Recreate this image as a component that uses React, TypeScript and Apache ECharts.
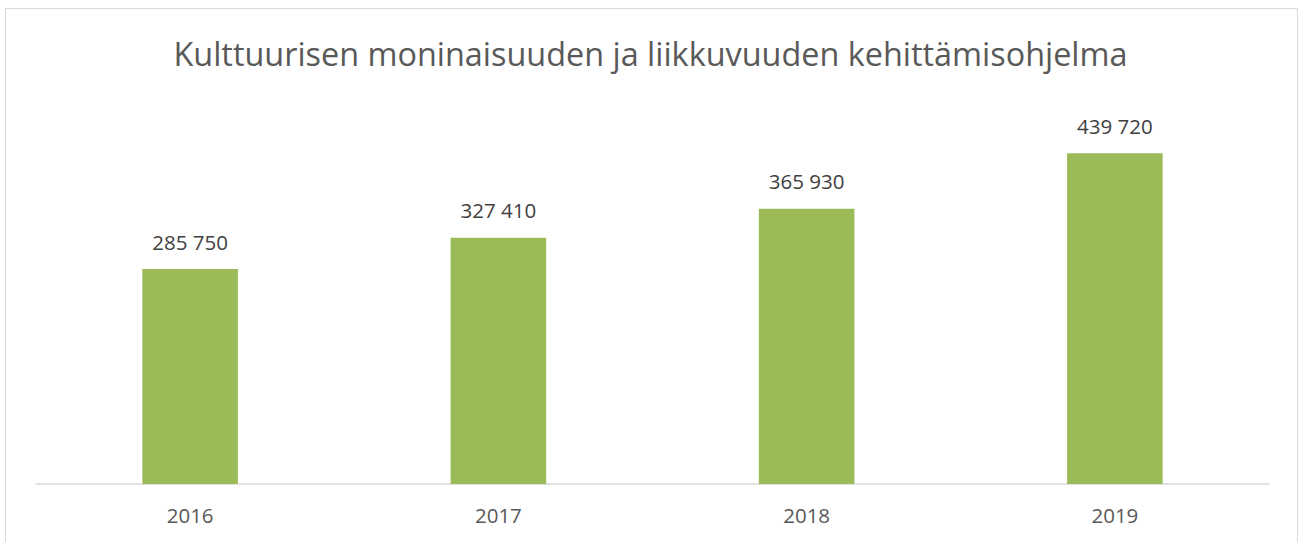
import React, { useEffect, useRef } from "react";
import * as echarts from "echarts";

const titleText = "Kulttuurisen moninaisuuden ja liikkuvuuden kehittämisohjelma";
const categories = ["2016", "2017", "2018", "2019"];
const values = [285750, 327410, 365930, 439720];

const fmt = (v: number) => String(v).replace(/\B(?=(\d{3})+(?!\d))/g, " ");

export default function App() {
  const ref = useRef<HTMLDivElement>(null);
  useEffect(() => {
    if (!ref.current) return;
    const chart = echarts.init(ref.current, undefined, { renderer: "svg" });
    chart.setOption({
      animation: false,
      backgroundColor: "#ffffff",
      title: {
        text: titleText,
        left: "center",
        top: 32,
        textStyle: {
          fontFamily: "Open Sans",
          fontSize: 32.4,
          fontWeight: "normal",
          color: "#595959",
        },
      },
      graphic: [
        {
          type: "rect",
          shape: { x: 5.5, y: 8.5, width: 1292, height: 545 },
          style: { fill: "none", stroke: "#D9D9D9", lineWidth: 1 },
          silent: true,
        },
      ],
      grid: { left: 36, right: 32, top: 108, bottom: 58 },
      xAxis: {
        type: "category",
        data: categories,
        axisLine: { lineStyle: { color: "#D9D9D9", width: 1.5 } },
        axisTick: { show: false },
        axisLabel: {
          color: "#595959",
          fontSize: 20.5,
          fontFamily: "Open Sans",
          margin: 20,
        },
      },
      yAxis: {
        type: "value",
        min: 0,
        max: 500000,
        show: false,
        splitLine: { show: false },
      },
      series: [
        {
          type: "bar",
          data: values,
          barWidth: "31%",
          itemStyle: { color: "#9BBB59" },
          label: {
            show: true,
            position: "top",
            distance: 17,
            color: "#404040",
            fontSize: 20.5,
            fontFamily: "Open Sans",
            formatter: (p: any) => fmt(p.value),
          },
        },
      ],
    });
    return () => chart.dispose();
  }, []);
  return (
    <div
      ref={ref}
      style={{ position: "absolute", left: 0, top: 0, width: 1301, height: 542 }}
    />
  );
}
